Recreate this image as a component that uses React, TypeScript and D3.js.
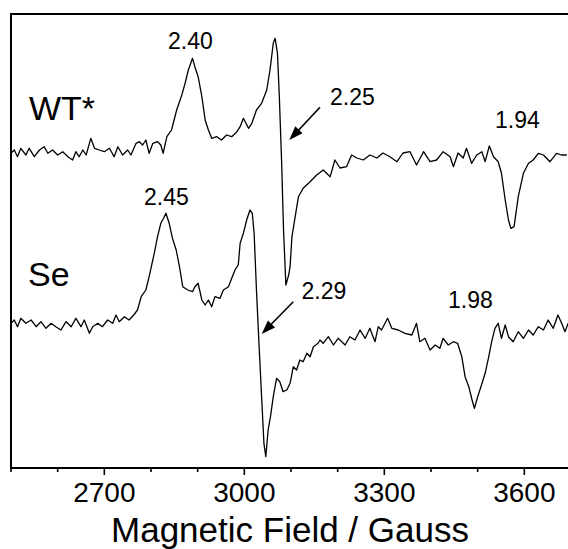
import React from "react";
import * as d3 from "d3";

// Magnetic field (G) and EPR signal (a.u.)
const wtField = [2500,2507,2514,2521,2532,2539,2550,2561,2571,2579,2589,2600,2611,2622,2632,2639,2646,2654,2661,2671,2679,2689,2700,2711,2721,2729,2739,2750,2757,2768,2775,2782,2789,2796,2804,2814,2821,2826,2834,2844,2855,2866,2873,2880,2889,2894,2901,2909,2916,2923,2930,2941,2951,2962,2973,2984,2991,2998,3009,3016,3026,3037,3048,3055,3062,3066,3071,3075,3080,3084,3089,3095,3098,3102,3109,3116,3126,3141,3155,3169,3184,3194,3205,3219,3230,3241,3255,3269,3284,3297,3312,3327,3340,3355,3369,3384,3398,3412,3426,3441,3448,3458,3469,3476,3487,3498,3509,3516,3525,3534,3544,3551,3559,3566,3571,3578,3587,3598,3609,3619,3630,3641,3655,3669,3680,3691];
const wtSignal = [314.7,318,311.3,319.7,313,319.7,311.3,318,321.3,314.7,318,313,316.3,311.3,308,316.3,311.3,318,313,329.7,319.7,318,316.3,319.7,311.3,321.3,313,318,313,324.7,326.3,323,328,314.7,324.7,326.3,323,314.7,331.3,338,358,373,384.7,398,409.7,401.3,391.3,371.3,348,338,329.7,331.3,328,333,331.3,336.3,341.3,349.7,339.7,344.7,358,364.7,378,398,424.7,429.7,414.7,371.3,304.7,238,183,193,201.3,231.3,251.3,271.3,279.7,286.3,293,298,291.3,308,300,301.3,313,310,308,313,310,315,311.3,306.3,315,316.3,303,316.3,306.3,308,316.3,311.3,301.3,315,310,319.7,304.7,313,316.3,306.3,322,311.3,306.3,294.7,268,248,239.7,241.3,271.3,294.7,304.7,308,314.7,313,306.3,314.7,313,313];

const seField = [2500,2507,2514,2521,2532,2543,2554,2564,2575,2586,2596,2607,2618,2629,2639,2650,2657,2668,2675,2686,2696,2707,2718,2725,2732,2743,2753,2763,2771,2779,2789,2796,2807,2814,2821,2827,2832,2839,2846,2854,2861,2868,2879,2889,2894,2901,2909,2916,2923,2930,2937,2948,2955,2966,2973,2980,2987,2991,2998,3005,3012,3017,3021,3026,3031,3037,3042,3046,3051,3056,3062,3069,3076,3083,3091,3098,3105,3112,3119,3126,3134,3141,3148,3158,3162,3169,3180,3191,3201,3216,3226,3237,3248,3259,3269,3280,3287,3294,3307,3316,3330,3344,3359,3369,3376,3387,3398,3409,3419,3426,3437,3448,3457,3466,3473,3481,3488,3493,3500,3507,3516,3523,3530,3537,3544,3551,3559,3566,3576,3587,3598,3609,3619,3630,3641,3651,3662,3672,3680,3687,3694];
const seSignal = [144.7,148,141.3,149.7,144.7,148,141.3,146.3,139.7,144.7,141.3,138,146.3,141.3,149.7,141.3,148,134.7,141.3,144.7,141.3,148,144.7,153,146.3,151.3,148,153,158,171.3,178,191.3,214.7,231.3,244.7,249.7,254.7,244.7,229.7,218,201.3,181.3,178,176.3,181.3,184.7,168,163,168,161.3,171.3,169.7,178,181.3,189.7,198,203,224.7,234.7,248,258,254.7,234.7,178,128,71.3,24.7,11.3,38,51.3,71.3,89.7,86.3,76.3,78,84.7,101.3,98,108,106.3,114.7,111.3,121.3,124.7,128,124.7,131.3,123,129.7,123,131.3,128,138,129.7,139.7,126.3,141.3,138,149.7,139.7,138,134.7,133,144.7,126.3,129.7,118,123,119.7,129.7,123,126.3,124.7,111.3,91.3,81.3,68,59.7,71.3,81.3,94.7,109.7,126.3,139.7,144.7,129.7,143,131.3,126.3,136.3,129.7,138,133,141.3,138,148,139.7,153,144.7,136.3,144.7];

const majorTicks = [2700, 3000, 3300, 3600];
const minorTicks = [2500, 2600, 2800, 2900, 3100, 3200, 3400, 3500, 3700];
const xTitle = "Magnetic Field / Gauss";
const sampleNames = ["WT*", "Se"];
const gLabels = ["2.40", "2.25", "1.94", "2.45", "2.29", "1.98"];

const W = 568;
const H = 549;
const left = 11;
const top = 14;
const bottom = 468;
const FONT = "'Liberation Sans', Arial, Helvetica, sans-serif";

function arrowHead(x1: number, y1: number, x2: number, y2: number, len = 14, half = 5) {
  const dx = x2 - x1;
  const dy = y2 - y1;
  const d = Math.hypot(dx, dy);
  const ux = dx / d;
  const uy = dy / d;
  const bx = x2 - ux * len;
  const by = y2 - uy * len;
  return `${x2},${y2} ${bx - uy * half},${by + ux * half} ${bx + uy * half},${by - ux * half}`;
}

export default function App() {
  const x = d3.scaleLinear().domain([2500, 3700]).range([left, 571]);
  const y = d3.scaleLinear().domain([0, 454]).range([bottom, top]);
  const line = d3
    .line<[number, number]>()
    .x((d) => x(d[0]))
    .y((d) => y(d[1]));
  const wt = wtField.map((f, i) => [f, wtSignal[i]] as [number, number]);
  const se = seField.map((f, i) => [f, seSignal[i]] as [number, number]);

  const arrows = [
    [320, 107.3, 289.3, 140],
    [293.3, 301.7, 261.7, 334],
  ];

  return (
    <svg
      width={W}
      height={H}
      style={{ position: "absolute", left: 0, top: 0, background: "#fff" }}
      fontFamily={FONT}
    >
      <rect width={W} height={H} fill="#fff" />
      <defs>
        <clipPath id="plot">
          <rect x={left} y={top} width={560} height={bottom - top} />
        </clipPath>
      </defs>
      <g clipPath="url(#plot)" fill="none" stroke="#000" strokeWidth={1.3} strokeLinejoin="round">
        <path d={line(wt) || ""} />
        <path d={line(se) || ""} />
      </g>
      {/* frame */}
      <rect x={left} y={top} width={560} height={bottom - top} fill="none" stroke="#000" strokeWidth={2} />
      {/* ticks */}
      <g stroke="#000" strokeWidth={1.6}>
        {majorTicks.map((t) => (
          <line key={"M" + t} x1={x(t)} x2={x(t)} y1={bottom} y2={bottom + 7} />
        ))}
        {minorTicks.map((t) => (
          <line key={"m" + t} x1={x(t)} x2={x(t)} y1={bottom} y2={bottom + 4} />
        ))}
      </g>
      <g fontSize={28} textAnchor="middle" fill="#000">
        {majorTicks.map((t) => (
          <text key={t} x={x(t)} y={501.5}>
            {t}
          </text>
        ))}
      </g>
      <text x={290} y={542} fontSize={35} textAnchor="middle" fill="#000">
        {xTitle}
      </text>
      {/* sample names */}
      <text x={29} y={120} fontSize={34} fill="#000">
        {sampleNames[0]}
      </text>
      <text x={28} y={285.5} fontSize={34} fill="#000">
        {sampleNames[1]}
      </text>
      {/* g-value labels */}
      <g fontSize={23} fill="#000">
        <text x={168} y={49}>{gLabels[0]}</text>
        <text x={330} y={105}>{gLabels[1]}</text>
        <text x={495} y={128.3}>{gLabels[2]}</text>
        <text x={144} y={204.5}>{gLabels[3]}</text>
        <text x={301.5} y={299.3}>{gLabels[4]}</text>
        <text x={448} y={308.3}>{gLabels[5]}</text>
      </g>
      {/* arrows */}
      {arrows.map(([x1, y1, x2, y2], i) => (
        <g key={i}>
          <line x1={x1} y1={y1} x2={x2 + (x1 - x2) * 0.2} y2={y2 + (y1 - y2) * 0.2} stroke="#000" strokeWidth={1.6} />
          <polygon points={arrowHead(x1, y1, x2, y2)} fill="#000" />
        </g>
      ))}
    </svg>
  );
}
